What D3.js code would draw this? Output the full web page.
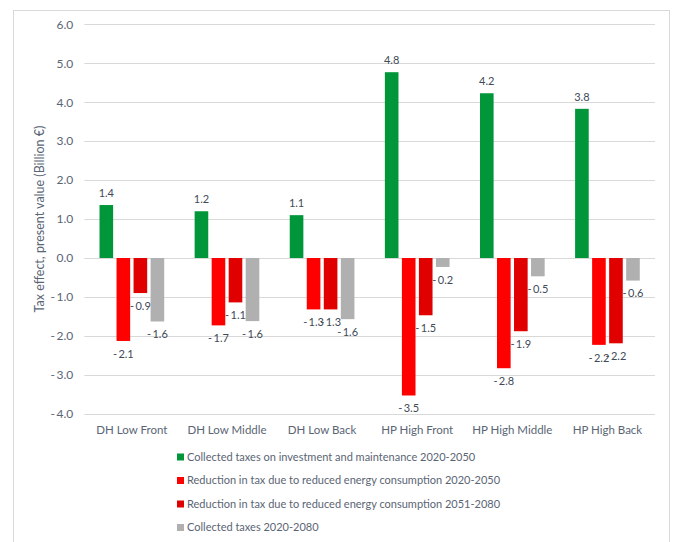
<!DOCTYPE html>
<html>
<head>
<meta charset="utf-8">
<script src="https://cdn.jsdelivr.net/npm/d3@7/dist/d3.min.js"></script>
<style>
  html, body { margin: 0; padding: 0; background: #fff; }
  svg { display: block; font-family: Lato, "Open Sans", sans-serif; }
</style>
</head>
<body>
<svg id="chart" width="676" height="542"></svg>
<script>
// Scenarios along the x axis
const categories = ["DH Low Front", "DH Low Middle", "DH Low Back", "HP High Front", "HP High Middle", "HP High Back"];

// Series names (legend order)
const seriesNames = [
  "Collected taxes on investment and maintenance 2020-2050",
  "Reduction in tax due to reduced energy consumption 2020-2050",
  "Reduction in tax due to reduced energy consumption 2051-2080",
  "Collected taxes 2020-2080"
];

// Values in billion €, one array per series
const investmentTaxes = [1.36, 1.20, 1.10, 4.77, 4.23, 3.83];
const reduction2020_2050 = [-2.13, -1.73, -1.32, -3.53, -2.83, -2.23];
const reduction2051_2080 = [-0.90, -1.14, -1.32, -1.47, -1.88, -2.19];
const collectedTaxes = [-1.63, -1.62, -1.57, -0.23, -0.47, -0.58];

const yTicks = [6, 5, 4, 3, 2, 1, 0, -1, -2, -3, -4];

const seriesValues = [investmentTaxes, reduction2020_2050, reduction2051_2080, collectedTaxes];
const seriesColors = ["#009639", "#ff0000", "#e00000", "#b0b0b0"];

const svg = d3.select("#chart");
const textColor = "#5a6574";
const labelColor = "#404a58";

// Outer frame
svg.append("rect")
  .attr("x", 13.5).attr("y", 10.5)
  .attr("width", 656).attr("height", 560)
  .attr("fill", "none").attr("stroke", "#d9d9d9").attr("stroke-width", 1);

const plot = { left: 84.3, right: 655, top: 24.3, bottom: 413.8 };

const y = d3.scaleLinear().domain([-4, 6]).range([plot.bottom, plot.top]);
const x0 = d3.scaleBand().domain(categories).range([plot.left, plot.right])
  .paddingInner(0.32).paddingOuter(0.16);
const x1 = d3.scaleBand().domain(d3.range(seriesValues.length)).range([0, x0.bandwidth()])
  .paddingInner(0.2);

// Gridlines
const grid = svg.append("g");
grid.selectAll("line").data(yTicks).join("line")
  .attr("x1", plot.left).attr("x2", plot.right)
  .attr("y1", d => Math.round(y(d)) + 0.5).attr("y2", d => Math.round(y(d)) + 0.5)
  .attr("stroke", "#d9d9d9").attr("stroke-width", 1);

// Number format: negatives written as "- 1.0" with a narrow gap after the minus
const fmtNum = v => v < 0 ? "-\u2009" + Math.abs(v).toFixed(1) : v.toFixed(1);

// Y axis tick labels
const yAxis = d3.axisLeft(y).tickValues(yTicks).tickSize(0).tickPadding(0).tickFormat(fmtNum);
const yAxisG = svg.append("g").attr("transform", `translate(${plot.left - 11},0)`).call(yAxis);
yAxisG.select(".domain").remove();
yAxisG.selectAll("text").attr("fill", textColor).style("font-size", "12px")
  .style("font-family", "Lato, sans-serif");

// Y axis title
svg.append("text")
  .attr("transform", `translate(44,${(plot.top + plot.bottom) / 2}) rotate(-90)`)
  .attr("text-anchor", "middle")
  .attr("fill", textColor)
  .style("font-size", "12.5px")
  .text("Tax effect, present value (Billion €)");

// Bars
const barData = [];
seriesValues.forEach((vals, si) => {
  vals.forEach((v, ci) => barData.push({ si, cat: categories[ci], v }));
});

const bars = svg.append("g");
bars.selectAll("rect").data(barData).join("rect")
  .attr("x", d => x0(d.cat) + x1(d.si))
  .attr("width", x1.bandwidth())
  .attr("y", d => y(Math.max(0, d.v)))
  .attr("height", d => Math.abs(y(d.v) - y(0)))
  .attr("fill", d => seriesColors[d.si]);

// Data labels at the outer end of each bar
svg.append("g").selectAll("text").data(barData).join("text")
  .attr("x", d => x0(d.cat) + x1(d.si) + x1.bandwidth() / 2)
  .attr("y", d => d.v >= 0 ? y(d.v) - 12 : y(d.v) + 13)
  .attr("dy", "0.35em")
  .attr("text-anchor", "middle")
  .attr("fill", labelColor)
  .style("font-size", "11px")
  .text(d => fmtNum(d.v));

// Category labels
const xAxis = d3.axisBottom(x0).tickSize(0).tickPadding(0);
const xAxisG = svg.append("g").attr("transform", `translate(0,${plot.bottom + 16})`).call(xAxis);
xAxisG.select(".domain").remove();
xAxisG.selectAll("text").attr("fill", textColor).attr("dy", "0.35em")
  .style("font-size", "11.5px").style("font-family", "Lato, sans-serif");

// Legend
const legend = svg.append("g");
const legendRow = legend.selectAll("g").data(seriesNames).join("g")
  .attr("transform", (d, i) => `translate(177,${457 + i * 23.5})`);
legendRow.append("rect")
  .attr("x", 0).attr("y", -3.5).attr("width", 7).attr("height", 7)
  .attr("fill", (d, i) => seriesColors[i]);
legendRow.append("text")
  .attr("x", 10).attr("dy", "0.35em")
  .attr("fill", textColor)
  .style("font-size", "11px")
  .text(d => d);
</script>
</body>
</html>
